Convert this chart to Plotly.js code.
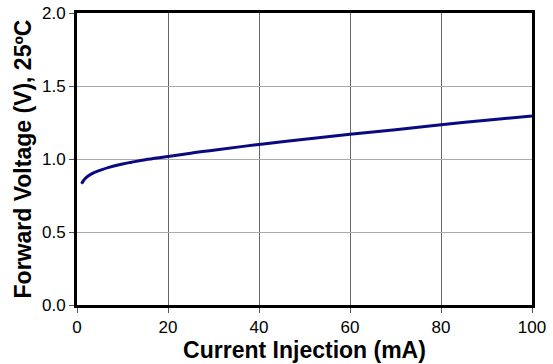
<!DOCTYPE html>
<html><head><meta charset="utf-8">
<script src="https://cdn.plot.ly/plotly-3.0.1.min.js"></script>
<style>html,body{margin:0;padding:0;background:#fff;}</style>
</head><body>
<div id="chart" style="width:553px;height:364px;"></div>
<script>
var currentMA = [1, 1.5, 2, 3, 4, 5, 7, 10, 12, 15, 20, 25, 30, 40, 50, 60, 70, 80, 90, 100];
var forwardV = [0.83, 0.855, 0.873, 0.895, 0.91, 0.922, 0.943, 0.966, 0.978, 0.995, 1.017, 1.04, 1.06, 1.10, 1.135, 1.17, 1.20, 1.235, 1.265, 1.295];
var xTicks = [0, 20, 40, 60, 80, 100];
var yTicks = [0, 0.5, 1.0, 1.5, 2.0];
var yTickText = ['0.0', '0.5', '1.0', '1.5', '2.0'];

Plotly.newPlot('chart', [{
  x: currentMA, y: forwardV, type: 'scatter', mode: 'lines',
  line: {color: '#0a0a80', width: 3, shape: 'spline', smoothing: 1}
}], {
  width: 553, height: 364,
  margin: {l: 77, r: 21, t: 13, b: 59},
  paper_bgcolor: '#fff', plot_bgcolor: '#fff',
  font: {family: 'Liberation Sans, Arial, sans-serif', color: '#000', size: 17},
  showlegend: false,
  xaxis: {
    range: [0, 100], tickvals: xTicks, ticks: 'outside', ticklen: 5, tickcolor: '#555',
    showgrid: true, gridcolor: '#666', gridwidth: 1,
    showline: true, linecolor: '#000', linewidth: 3, mirror: true, zeroline: false,
    tickfont: {size: 17},
    title: {text: '<b>Current Injection (mA)</b>', font: {size: 23}, standoff: 1}
  },
  yaxis: {
    range: [0, 2], tickvals: yTicks, ticktext: yTickText, ticks: 'outside', ticklen: 5, tickcolor: '#555',
    showgrid: true, gridcolor: '#aaa', gridwidth: 1,
    showline: true, linecolor: '#000', linewidth: 3, mirror: true, zeroline: false,
    tickfont: {size: 17},
    title: {text: '<b>Forward Voltage (V), 25ºC</b>', font: {size: 23}, standoff: 4}
  }
}, {displayModeBar: false, staticPlot: true});
</script>
</body></html>
